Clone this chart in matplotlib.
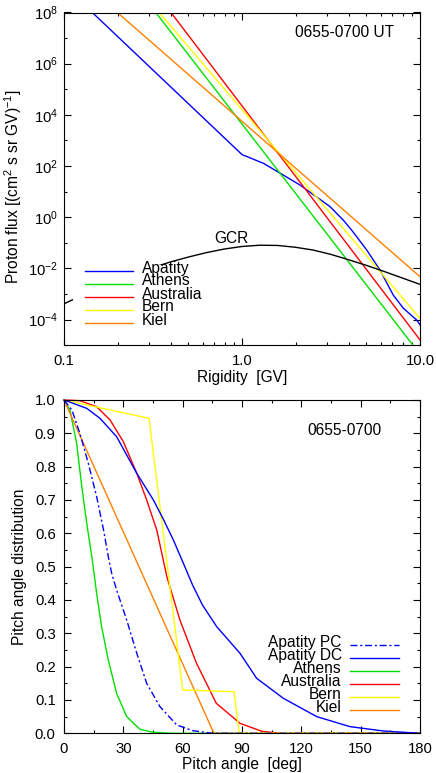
import numpy as np
from matplotlib import pyplot as plt
from matplotlib.ticker import FixedLocator, FuncFormatter, NullFormatter, LogLocator, MultipleLocator
from matplotlib.patches import Rectangle

plt.rcParams['font.family'] = ['Liberation Sans', 'DejaVu Sans']
plt.rcParams['mathtext.fontset'] = 'custom'
plt.rcParams['mathtext.rm'] = 'Liberation Sans'
plt.rcParams['mathtext.it'] = 'Liberation Sans:italic'
plt.rcParams['mathtext.bf'] = 'Liberation Sans:bold'
plt.rcParams['mathtext.default'] = 'regular'

# ---- top panel: spectra, stored as log10(rigidity [GV]) / log10(flux) ----
apatity_lr = [-0.85, 0.0, 0.12, 0.232, 0.326, 0.42, 0.494, 0.569, 0.616, 0.701, 0.775, 0.85, 0.906, 0.981, 1.0]
apatity_lf = [8.06, 2.45, 2.11, 1.65, 1.26, 0.79, 0.42, -0.11, -0.50, -1.28, -2.06, -3.04, -3.55, -4.01, -4.20]
athens_lr = [-0.49, 1.0]
athens_lf = [8.05, -5.35]
australia_lr = [-0.40, 1.0]
australia_lf = [8.01, -4.79]
bern_lr = [-0.47, 1.0]
bern_lf = [8.04, -3.95]
kiel_lr = [-0.71, 1.0]
kiel_lf = [8.06, -2.32]
gcr_lr = [-1.0, -0.9, -0.8, -0.7, -0.6, -0.5, -0.4, -0.3, -0.2, -0.1, 0.0, 0.1, 0.2, 0.3, 0.4, 0.5, 0.6, 0.7, 0.8, 0.9, 1.0]
gcr_lf = [-3.38, -3.05, -2.74, -2.46, -2.2, -1.96, -1.74, -1.55, -1.38, -1.24, -1.14, -1.09, -1.10, -1.17, -1.28, -1.45, -1.66, -1.88, -2.12, -2.37, -2.62]

spec_names = ["Apatity", "Athens", "Australia", "Bern", "Kiel"]
spec_data = [(apatity_lr, apatity_lf), (athens_lr, athens_lf), (australia_lr, australia_lf),
             (bern_lr, bern_lf), (kiel_lr, kiel_lf)]

# ---- bottom panel: pitch angle distributions ----
pc_ang = [0, 4, 8, 12.3, 16.5, 20, 22.4, 24.1, 26.6, 31.7, 36.8, 41.8, 48.5, 57, 65, 75, 180]
pc_val = [1.0, 0.97, 0.9, 0.81, 0.71, 0.61, 0.53, 0.48, 0.43, 0.34, 0.24, 0.15, 0.08, 0.025, 0.008, 0.0, 0.0]
dc_ang = [0, 11.5, 18.2, 26.6, 36.8, 45.2, 50, 55.3, 60, 65, 70, 77.2, 89, 97.4, 110.9, 127.8, 144.6, 161.4, 180]
dc_val = [1.0, 0.975, 0.945, 0.89, 0.78, 0.70, 0.645, 0.58, 0.515, 0.445, 0.385, 0.32, 0.24, 0.165, 0.105, 0.05, 0.02, 0.007, 0.0]
ath_ang = [0, 3, 6.4, 9, 11.5, 14.3, 16.5, 19, 22.4, 26.6, 31.7, 38.4, 45, 55, 180]
ath_val = [1.0, 0.97, 0.87, 0.74, 0.63, 0.52, 0.42, 0.32, 0.22, 0.12, 0.05, 0.012, 0.003, 0.0, 0.0]
aus_ang = [0, 8, 16.5, 23.3, 30, 36.8, 41.8, 46.9, 52, 58.6, 67, 77, 89, 100, 110, 180]
aus_val = [1.0, 0.998, 0.98, 0.94, 0.875, 0.78, 0.70, 0.61, 0.47, 0.34, 0.21, 0.09, 0.03, 0.006, 0.0, 0.0]
bern_ang = [0, 43, 60, 86, 88.6, 180]
bern_val = [1.0, 0.945, 0.13, 0.125, 0.0, 0.0]
kiel_ang = [0, 75.8, 180]
kiel_val = [1.0, 0.0, 0.0]

pad_names = ["Apatity PC", "Apatity DC", "Athens", "Australia", "Bern", "Kiel"]
pad_data = [(pc_ang, pc_val), (dc_ang, dc_val), (ath_ang, ath_val), (aus_ang, aus_val),
            (bern_ang, bern_val), (kiel_ang, kiel_val)]

colors = {"Apatity": "#0000ff", "Apatity PC": "#0000ff", "Apatity DC": "#0000ff",
          "Athens": "#00e000", "Australia": "#ff0000", "Bern": "#ffff00", "Kiel": "#ff8000"}
dashdot = (0, (5, 2, 1.5, 2))
fs_txt = 11.2
fs_tick = 10.7


def style_ax(ax):
  ax.tick_params(which='both', direction='in', top=True, right=True, width=0.8, labelsize=fs_tick)
  ax.tick_params(which='major', length=5)
  ax.tick_params(which='minor', length=2.5)
  for s in ax.spines.values():
    s.set_linewidth(0.8)


fig = plt.figure(figsize=(4.36, 7.73), dpi=100)

# ----- top panel -----
ax = fig.add_axes([64/436, 1-345.3/773, 356/436, 332.8/773])
ax.set_xscale('log')
ax.set_yscale('log')
ax.set_xlim(0.1, 10)
ax.set_ylim(1e-5, 1e8)

for name, (lr, lf) in zip(spec_names, spec_data):
  ax.plot(10**np.array(lr), 10**np.array(lf), color=colors[name], lw=1.0, zorder=2)
ax.plot(10**np.array(gcr_lr), 10**np.array(gcr_lf), color='black', lw=1.0, zorder=2)
ax.text(0.875, 0.15, "GCR", fontsize=fs_txt, ha='center', va='center')

# legend drawn by hand, with white box covering GCR curve
ax.add_patch(Rectangle((0.025, 0.03), 0.385, 0.21, transform=ax.transAxes,
                       facecolor='white', edgecolor='none', zorder=3))
rows = [0.2235, 0.1856, 0.1453, 0.1074, 0.0671]
for name, y in zip(spec_names, rows):
  ax.plot([0.059, 0.194], [y, y], transform=ax.transAxes, color=colors[name], lw=1.0, zorder=4)
  ax.text(0.219, y + 0.008, name, transform=ax.transAxes, fontsize=fs_txt, ha='left', va='center', zorder=4)

ax.text(0.789, 0.939, "0655-0700 UT", transform=ax.transAxes, fontsize=fs_txt, ha='center', va='center')

ax.xaxis.set_major_locator(FixedLocator([0.1, 1.0, 10.0]))
ax.xaxis.set_major_formatter(FuncFormatter(lambda v, _: f"{v:.1f}"))
ax.xaxis.set_minor_locator(LogLocator(base=10, subs=np.arange(2, 10)))
ax.xaxis.set_minor_formatter(NullFormatter())
ax.yaxis.set_major_locator(FixedLocator([10.0**k for k in range(-4, 9, 2)]))
ax.yaxis.set_minor_locator(FixedLocator([10.0**k for k in range(-5, 8, 2)]))
ax.yaxis.set_major_formatter(FuncFormatter(lambda v, _: f"$10^{{{int(round(np.log10(v)))}}}$"))
ax.yaxis.set_minor_formatter(NullFormatter())
style_ax(ax)
ax.tick_params(axis='x', pad=6)
ax.tick_params(axis='y', pad=4)
ax.set_xlabel("Rigidity  [GV]", fontsize=fs_txt, labelpad=2)
ax.set_ylabel("Proton flux [(cm$^2$ s sr GV)$^{-1}$]", fontsize=fs_txt)
ax.yaxis.set_label_coords(-0.112, 0.476)

# ----- bottom panel -----
ax2 = fig.add_axes([64/436, 1-733.3/773, 356/436, 333.3/773])
ax2.set_xlim(0, 180)
ax2.set_ylim(0, 1.0)

order = [2, 3, 5, 4, 1, 0]
for i in order:
  name = pad_names[i]
  ang, val = pad_data[i]
  ls = dashdot if name == "Apatity PC" else '-'
  ax2.plot(ang, val, color=colors[name], lw=1.0, ls=ls, clip_on=False)

rows2 = [0.265, 0.227, 0.188, 0.148, 0.110, 0.070]
for name, y in zip(pad_names, rows2):
  ls = dashdot if name == "Apatity PC" else '-'
  ax2.plot([0.803, 0.942], [y, y], transform=ax2.transAxes, color=colors[name], lw=1.0, ls=ls)
  ax2.text(0.780, y + 0.007, name, transform=ax2.transAxes, fontsize=fs_txt, ha='right', va='center')

ax2.text(0.789, 0.908, "0655-0700", transform=ax2.transAxes, fontsize=fs_txt, ha='center', va='center')

ax2.xaxis.set_major_locator(MultipleLocator(30))
ax2.xaxis.set_minor_locator(MultipleLocator(15))
ax2.yaxis.set_major_locator(MultipleLocator(0.1))
ax2.yaxis.set_minor_locator(MultipleLocator(0.05))
ax2.yaxis.set_major_formatter(FuncFormatter(lambda v, _: f"{v:.1f}"))
style_ax(ax2)
ax2.tick_params(axis='x', pad=6)
ax2.tick_params(axis='y', pad=6)
ax2.set_xlabel("Pitch angle  [deg]", fontsize=fs_txt, labelpad=1)
ax2.set_ylabel("Pitch angle distribution", fontsize=fs_txt)
ax2.yaxis.set_label_coords(-0.104, 0.5)

fig.savefig("out.png", dpi=100)
